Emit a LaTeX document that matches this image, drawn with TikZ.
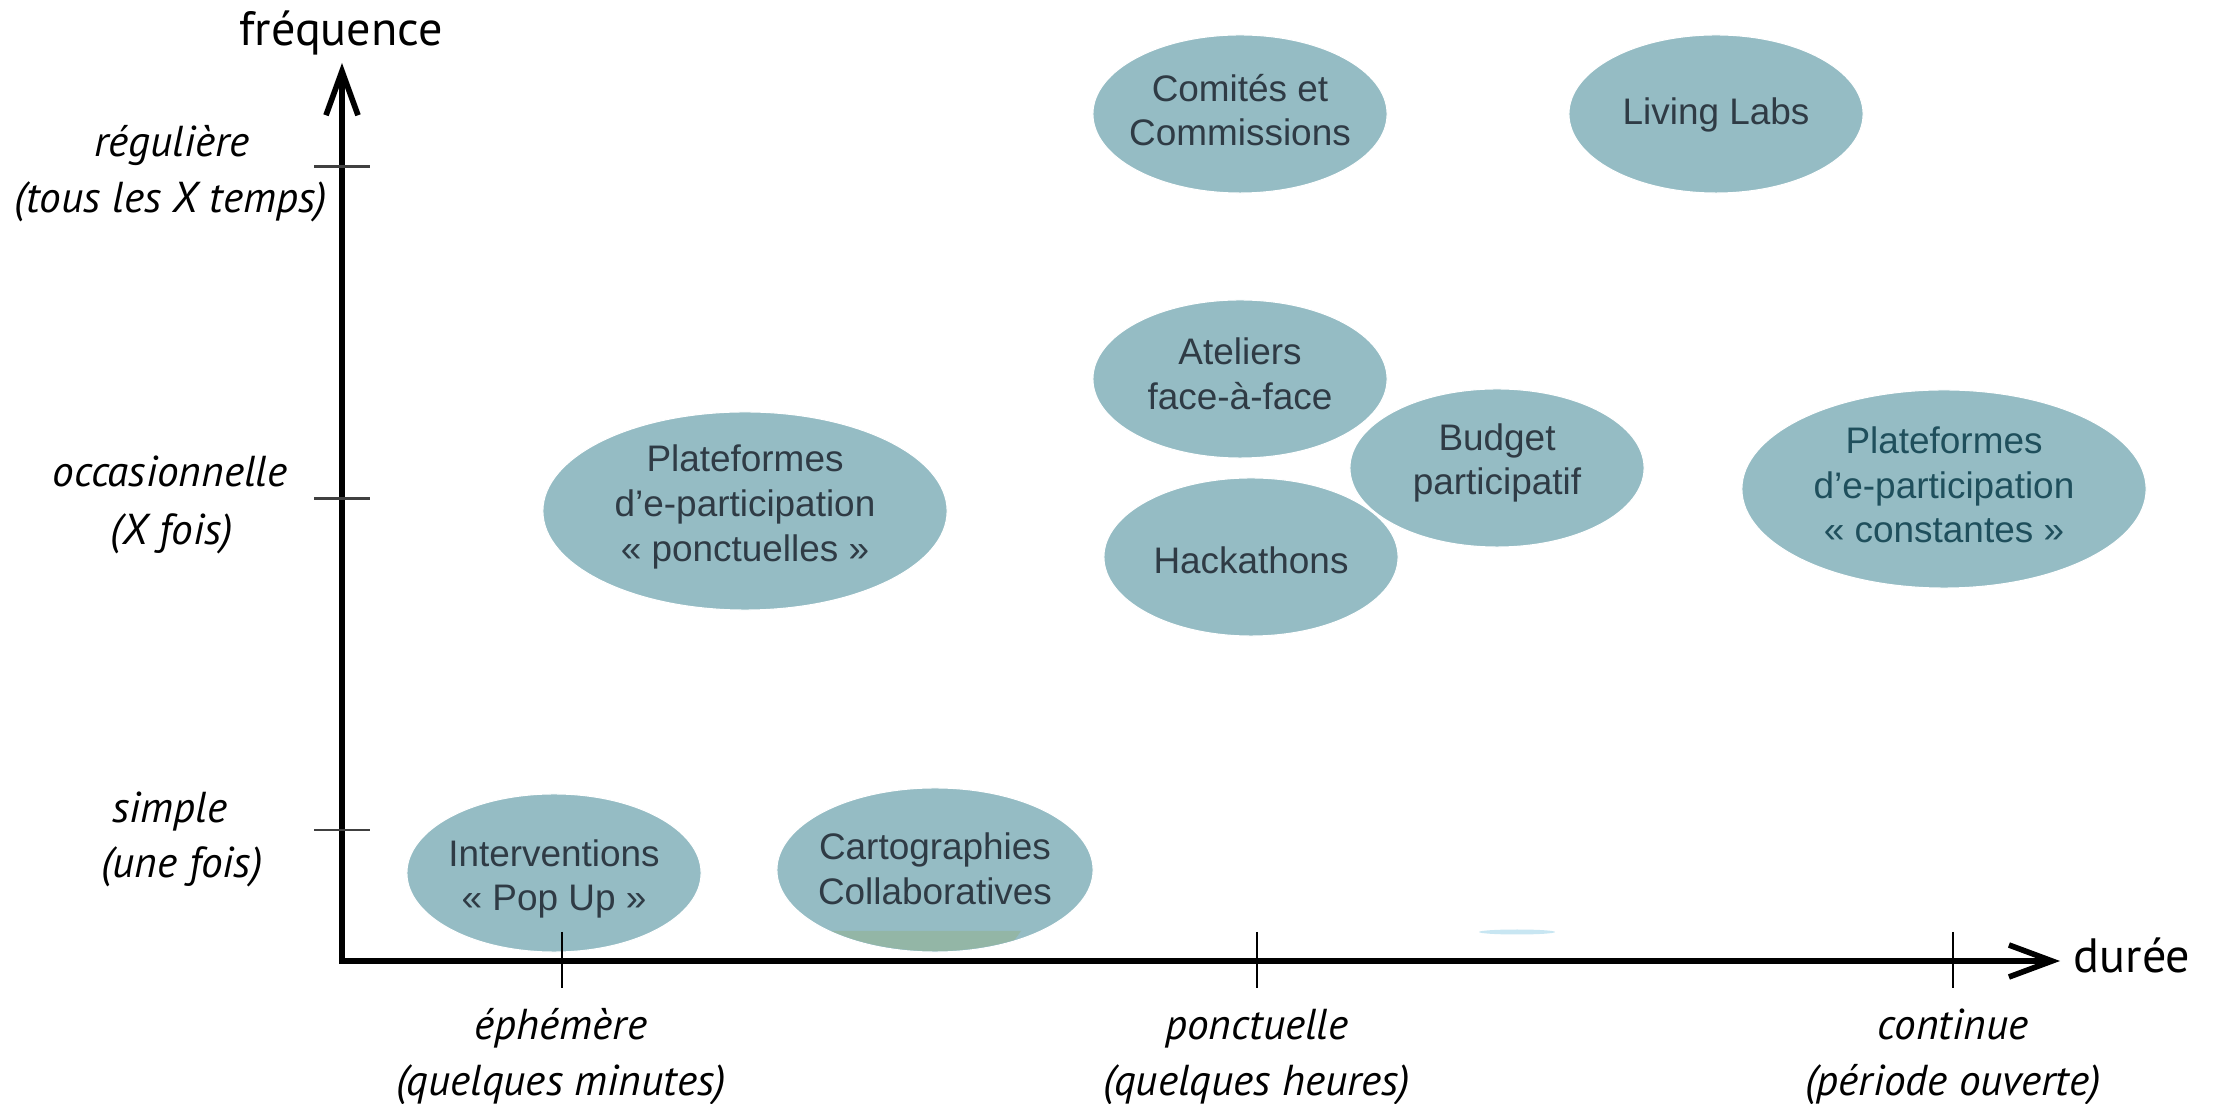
\documentclass[tikz,border=0pt]{standalone}
\usepackage{fontspec}
\setmainfont{Liberation Sans}
\newfontfamily\axisfont{PT Sans}
\usetikzlibrary{shapes.geometric,arrows.meta}
\definecolor{ellfill}{HTML}{95BCC4}
\definecolor{elltext}{HTML}{2F3B45}
\definecolor{elltextteal}{HTML}{1F4F5C}
\definecolor{tickgrey}{HTML}{404040}
\definecolor{cartogreen}{HTML}{93B6A6}
\definecolor{sliverblue}{HTML}{C8E6F2}
\begin{document}
\begin{tikzpicture}[x=0.01cm,y=-0.01cm,
  bubble/.style={ellipse, fill=ellfill, draw=white, line width=0.3pt, inner sep=0pt,
    minimum width=2.94cm, minimum height=1.58cm},
  bigbubble/.style={bubble, minimum width=4.04cm, minimum height=1.98cm},
  btext/.style={inner sep=0pt, text=elltext, align=center,
    font=\fontsize{10.5pt}{12.7pt}\selectfont},
  axisline/.style={line width=1.6pt, line join=miter},
  ytickline/.style={line width=0.85pt, draw=tickgrey},
  xtickline/.style={line width=0.6pt},
  axislabel/.style={font=\axisfont\fontsize{13.7pt}{16pt}\selectfont, inner sep=0pt},
  scalelabel/.style={font=\axisfont\itshape\fontsize{12.3pt}{14pt}\selectfont, inner sep=0pt, anchor=base},
]
\useasboundingbox (0,0) rectangle (2218,1104);

% bubbles
\node[bubble] (comites) at (1240,114) {};
\node[bubble] (living) at (1716,114) {};
\node[bubble] (ateliers) at (1240,379) {};
\node[bubble] (hack) at (1251,557) {};
\node[bubble] (budget) at (1497,468) {};
\node[bigbubble] (constantes) at (1944,489) {};
\node[bigbubble] (ponct) at (745,511) {};
\node[bubble] (popup) at (554,873) {};
\node[bubble, minimum width=3.16cm, minimum height=1.64cm] (carto) at (935,870) {};

% small artefacts
\begin{scope}
  \clip (carto.center) ellipse [x radius=157, y radius=81];
  \fill[cartogreen] (823,931) -- (1021,931) -- (1000,960) -- (823,960) -- cycle;
\end{scope}
\fill[sliverblue] (1517,932) ellipse [x radius=38, y radius=2.5];

% bubble texts
\node[btext] (comitesT) at (1240,110) {Comités et\\Commissions};
\node[btext] (livingT) at (1716,115) {Living Labs};
\node[btext] (ateliersT) at (1240,374) {Ateliers\\face-à-face};
\node[btext] (hackT) at (1251,560) {Hackathons};
\node[btext] (budgetT) at (1497,463) {Budget\\participatif};
\node[btext, text=elltextteal] (constantesT) at (1944,485) {Plateformes\\d’e-participation\\« constantes »};
\node[btext] (ponctT) at (745,507) {Plateformes\\d’e-participation\\« ponctuelles »};
\node[btext] (popupT) at (554,879) {Interventions\\« Pop Up »};
\node[btext] (cartoT) at (935,869) {Cartographies\\Collaboratives};

% axes
\coordinate (origin) at (342,961);
\coordinate (ytip) at (342,63);
\coordinate (xtip) at (2060,961);
\draw[axisline, {Straight Barb[length=0.44cm,width=0.32cm]}-{Straight Barb[length=0.43cm,width=0.32cm]}] (ytip) -- (origin) -- (xtip);

% y ticks
\coordinate (yt1a) at (314,167); \coordinate (yt1b) at (370,167);
\coordinate (yt2a) at (314,499); \coordinate (yt2b) at (370,499);
\coordinate (yt3a) at (314,830); \coordinate (yt3b) at (370,830);
\draw[ytickline] (yt1a) -- (yt1b);
\draw[ytickline] (yt2a) -- (yt2b);
\draw[ytickline] (yt3a) -- (yt3b);

% x ticks
\coordinate (xt1a) at (562,932); \coordinate (xt1b) at (562,988);
\coordinate (xt2a) at (1257,932); \coordinate (xt2b) at (1257,988);
\coordinate (xt3a) at (1953,932); \coordinate (xt3b) at (1953,988);
\draw[xtickline] (xt1a) -- (xt1b);
\draw[xtickline] (xt2a) -- (xt2b);
\draw[xtickline] (xt3a) -- (xt3b);

% axis titles
\node[axislabel, anchor=base] (freq) at (341,46) {fréquence};
\node[axislabel, anchor=base west] (duree) at (2073,972) {durée};

% y scale labels
\node[scalelabel] (reg1) at (172,157) {régulière};
\node[scalelabel] (reg2) at (171,213) {(tous les X temps)};
\node[scalelabel] (occ1) at (170,487) {occasionnelle};
\node[scalelabel] (occ2) at (172,545) {(X fois)};
\node[scalelabel] (sim1) at (170,823) {simple};
\node[scalelabel] (sim2) at (182,878) {(une fois)};

% x scale labels
\node[scalelabel] (eph1) at (561,1040) {éphémère};
\node[scalelabel] (eph2) at (561,1096) {(quelques minutes)};
\node[scalelabel] (pon1) at (1257,1040) {ponctuelle};
\node[scalelabel] (pon2) at (1257,1096) {(quelques heures)};
\node[scalelabel] (con1) at (1953,1040) {continue};
\node[scalelabel] (con2) at (1953,1096) {(période ouverte)};
\end{tikzpicture}
\end{document}
